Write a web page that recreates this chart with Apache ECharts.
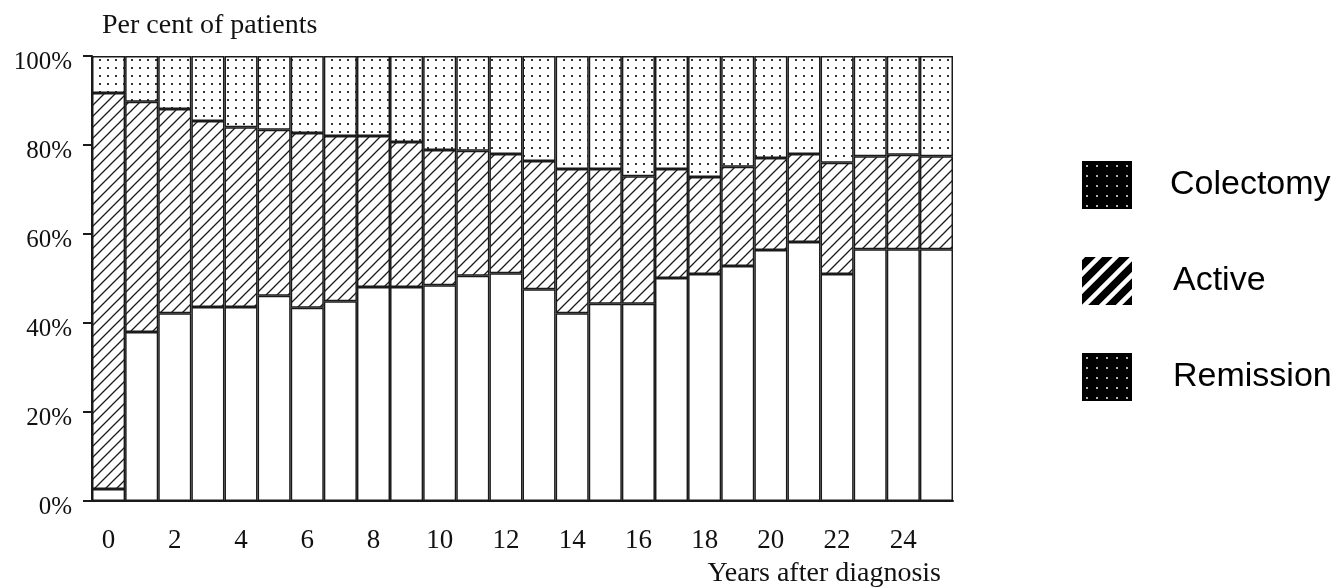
<!DOCTYPE html>
<html>
<head>
<meta charset="utf-8">
<script src="https://cdn.jsdelivr.net/npm/echarts@6/dist/echarts.min.js"></script>
<style>
html,body{margin:0;padding:0;background:#fff;}
#chart{width:1340px;height:588px;}
</style>
</head>
<body>
<div id="chart"></div>
<script>
const years = ['0','1','2','3','4','5','6','7','8','9','10','11','12','13','14','15','16','17','18','19','20','21','22','23','24','25'];
const remission = [2.7, 38.0, 42.2, 43.6, 43.6, 46.1, 43.4, 44.9, 48.1, 48.1, 48.5, 50.6, 51.2, 47.6, 42.2, 44.3, 44.3, 50.1, 51.0, 52.8, 56.4, 58.2, 51.0, 56.6, 56.6, 56.6];
const active = [89.0, 51.7, 45.9, 41.8, 40.4, 37.3, 39.3, 37.1, 33.9, 32.6, 30.4, 28.1, 26.8, 28.8, 32.4, 30.3, 28.7, 24.5, 21.8, 22.3, 20.7, 19.8, 25.0, 20.9, 21.2, 20.9];
const colectomy = [8.3, 10.3, 11.9, 14.6, 16.0, 16.6, 17.3, 18.0, 18.0, 19.3, 21.1, 21.3, 22.0, 23.6, 25.4, 25.4, 27.0, 25.4, 27.2, 24.9, 22.9, 22.0, 24.0, 22.5, 22.2, 22.5];
const yTicks = [0, 20, 40, 60, 80, 100];

function hatchCanvas(bg, fg, size, lw) {
  const c = document.createElement('canvas');
  c.width = size; c.height = size;
  const g = c.getContext('2d');
  g.fillStyle = bg; g.fillRect(0, 0, size, size);
  g.strokeStyle = fg; g.lineWidth = lw;
  g.beginPath();
  g.moveTo(0, size); g.lineTo(size, 0);
  g.moveTo(-size / 2, size / 2); g.lineTo(size / 2, -size / 2);
  g.moveTo(size / 2, size * 1.5); g.lineTo(size * 1.5, size / 2);
  g.stroke();
  return c;
}
function dotCanvas(bg, fg, size, dot) {
  const c = document.createElement('canvas');
  c.width = size; c.height = size;
  const g = c.getContext('2d');
  g.fillStyle = bg; g.fillRect(0, 0, size, size);
  g.fillStyle = fg;
  const o = Math.floor((size - dot) / 2);
  g.fillRect(o, o, dot, dot);
  return c;
}

const barDots = { image: dotCanvas('#ffffff', '#333333', 8, 2), repeat: 'repeat' };
const barHatch = { image: hatchCanvas('#ffffff', '#1a1a1a', 11, 1.3), repeat: 'repeat' };
const legDots = { image: dotCanvas('#000000', '#b0b0b0', 10, 2), repeat: 'repeat' };
const legHatch = { image: hatchCanvas('#000000', '#ffffff', 17, 4.5), repeat: 'repeat' };

const chart = echarts.init(document.getElementById('chart'), null, { renderer: 'canvas' });
const serif = '"Liberation Serif", "Times New Roman", serif';
const border = { borderColor: '#1a1a1a', borderWidth: 1.5 };

chart.setOption({
  animation: false,
  backgroundColor: '#ffffff',
  title: [
    { text: 'Per cent of patients', left: 97, top: 7,
      textStyle: { fontFamily: serif, fontSize: 28, fontWeight: 'normal', color: '#111' } },
    { text: 'Years after diagnosis', right: 394, top: 555,
      textStyle: { fontFamily: serif, fontSize: 28, fontWeight: 'normal', color: '#111' } }
  ],
  legend: {
    orient: 'vertical', left: 1077, top: 156,
    itemWidth: 50, itemHeight: 48, itemGap: 48,
    selectedMode: false, icon: 'rect',
    textStyle: { fontFamily: '"Liberation Sans", Arial, sans-serif', fontSize: 34, color: '#000' },
    data: [
      { name: 'Colectomy', itemStyle: { color: legDots, borderWidth: 0 },
        textStyle: { padding: [18, 0, 0, 33] } },
      { name: 'Active', itemStyle: { color: legHatch, borderWidth: 0 },
        textStyle: { padding: [32, 0, 0, 36] } },
      { name: 'Remission', itemStyle: { color: legDots, borderWidth: 0 },
        textStyle: { padding: [28, 0, 0, 36] } }
    ]
  },
  grid: { left: 92, right: 387, top: 56, bottom: 87, containLabel: false, outerBoundsMode: 'none' },
  xAxis: {
    type: 'category', data: years,
    axisLine: { lineStyle: { color: '#1a1a1a', width: 2 } },
    axisTick: { alignWithLabel: true, interval: 0, length: 10, lineStyle: { color: '#1a1a1a', width: 2 } },
    axisLabel: { interval: 1, margin: 26, fontFamily: serif, fontSize: 27, color: '#111' },
    splitLine: { show: false }
  },
  yAxis: {
    type: 'value', min: yTicks[0], max: yTicks[yTicks.length - 1], interval: 20,
    axisLine: { show: true, lineStyle: { color: '#1a1a1a', width: 2 } },
    axisTick: { show: true, length: 9, lineStyle: { color: '#1a1a1a', width: 2 } },
    axisLabel: { formatter: '{value}%', margin: 20, fontFamily: serif, fontSize: 25, color: '#111',
      verticalAlign: 'top', lineHeight: 12 },
    splitLine: { show: false }
  },
  series: [
    { name: 'Remission', type: 'bar', stack: 'all', data: remission, barCategoryGap: '0%',
      itemStyle: Object.assign({ color: '#ffffff' }, border) },
    { name: 'Active', type: 'bar', stack: 'all', data: active, barCategoryGap: '0%',
      itemStyle: Object.assign({ color: barHatch }, border) },
    { name: 'Colectomy', type: 'bar', stack: 'all', data: colectomy, barCategoryGap: '0%',
      itemStyle: Object.assign({ color: barDots }, border) }
  ]
});
</script>
</body>
</html>
